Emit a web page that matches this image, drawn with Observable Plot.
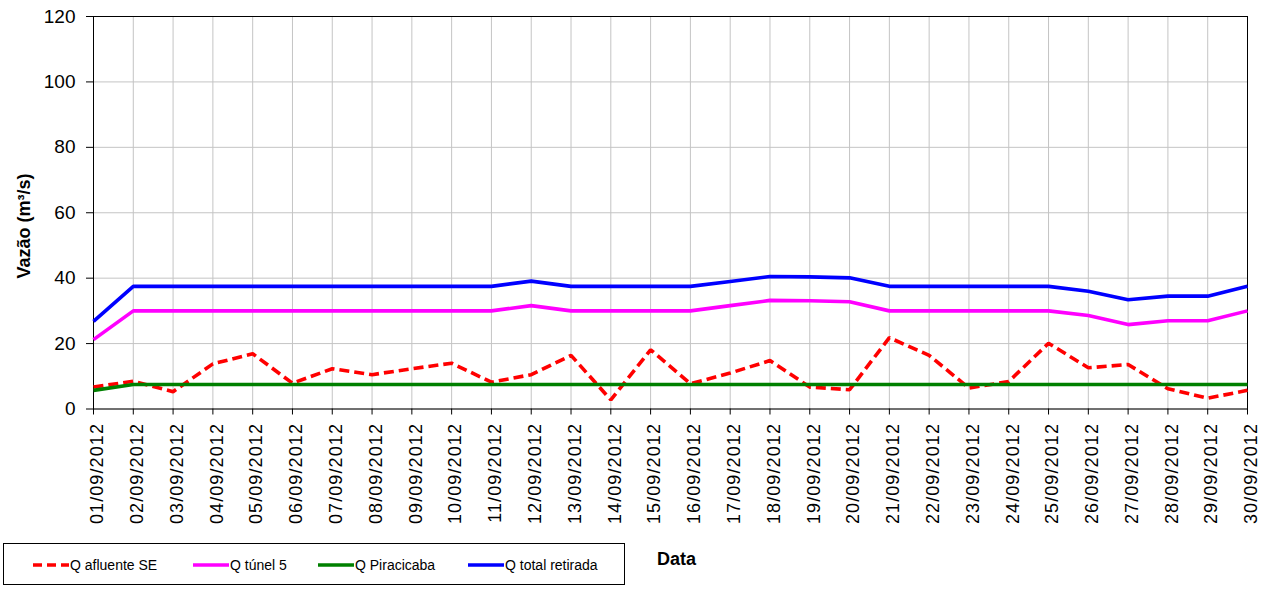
<!DOCTYPE html>
<html><head><meta charset="utf-8">
<script src="https://cdn.jsdelivr.net/npm/d3@7"></script>
<script src="https://cdn.jsdelivr.net/npm/@observablehq/plot@0.6"></script>
<style>
body{margin:0;background:#fff;font-family:"Liberation Sans",Arial,sans-serif;}
#wrap{position:relative;width:1266px;height:593px;overflow:hidden;}
#ytitle{position:absolute;left:24px;top:226px;transform:translate(-50%,-50%) rotate(-90deg);font-weight:bold;font-size:18px;white-space:nowrap;color:#000;}
#legend{position:absolute;left:3px;top:543px;width:622px;height:42px;border:1px solid #000;box-sizing:border-box;}
.item{position:absolute;top:0;height:42px;display:flex;align-items:center;font-size:14px;color:#000;white-space:nowrap;}
.item svg{display:block;margin-right:1px;}
#xtitle{position:absolute;left:657px;top:549px;font-weight:bold;font-size:18px;color:#000;}
</style></head><body><div id="wrap"><div id="chart"></div><div id="ytitle"></div><div id="legend"></div><div id="xtitle"></div></div>
<script>
const dates = ["01/09/2012","02/09/2012","03/09/2012","04/09/2012","05/09/2012","06/09/2012","07/09/2012","08/09/2012","09/09/2012","10/09/2012",
"11/09/2012","12/09/2012","13/09/2012","14/09/2012","15/09/2012","16/09/2012","17/09/2012","18/09/2012","19/09/2012","20/09/2012",
"21/09/2012","22/09/2012","23/09/2012","24/09/2012","25/09/2012","26/09/2012","27/09/2012","28/09/2012","29/09/2012","30/09/2012"];
const qAfluente = [6.7,8.5,5.3,13.8,16.9,7.9,12.3,10.5,12.3,14.0,8.2,10.5,16.4,2.8,18.1,7.7,11.0,14.8,6.7,5.9,21.8,16.4,6.4,8.4,20.1,12.6,13.6,6.2,3.3,5.7];
const qTunel = [21.2,30,30,30,30,30,30,30,30,30,30,31.6,30,30,30,30,31.6,33.2,33.1,32.8,30,30,30,30,30,28.6,25.8,27,27,30];
const qPiracicaba = [5.7,7.5,7.5,7.5,7.5,7.5,7.5,7.5,7.5,7.5,7.5,7.5,7.5,7.5,7.5,7.5,7.5,7.5,7.5,7.5,7.5,7.5,7.5,7.5,7.5,7.5,7.5,7.5,7.5,7.5];
const qTotal = [26.8,37.5,37.5,37.5,37.5,37.5,37.5,37.5,37.5,37.5,37.5,39.1,37.5,37.5,37.5,37.5,39.0,40.5,40.4,40.1,37.5,37.5,37.5,37.5,37.5,36.0,33.4,34.5,34.5,37.5];
const seriesNames = ["Q afluente SE","Q túnel 5","Q Piracicaba","Q total retirada"];
const seriesColors = ["#ff0000","#ff00ff","#008000","#0000ff"];
const yTicks = [0,20,40,60,80,100,120];
const yTitle = "Vazão (m³/s)";
const xTitle = "Data";

const seriesValues = [qAfluente, qTunel, qPiracicaba, qTotal];
const rows = [];
seriesNames.forEach((s, k) => dates.forEach((d, i) => rows.push({date: d, value: seriesValues[k][i], series: s})));

const lineMark = (k, extra) => Plot.line(rows.filter(r => r.series === seriesNames[k]),
  Object.assign({x: "date", y: "value", stroke: seriesColors[k], strokeWidth: 3.6, strokeLinejoin: "miter", strokeLinecap: "butt"}, extra || {}));

const chart = Plot.plot({
  width: 1266, height: 530,
  marginLeft: 93, marginRight: 19, marginTop: 16, marginBottom: 121.5,
  style: {fontFamily: "'Liberation Sans', Arial, sans-serif", color: "#000", background: "#fff", overflow: "visible"},
  x: {type: "point", domain: dates, padding: 0, round: false},
  y: {domain: [0, 120]},
  marks: [
    Plot.gridY(yTicks, {stroke: "#c4c4c4", strokeOpacity: 1, strokeWidth: 1}),
    Plot.gridX(dates, {stroke: "#c4c4c4", strokeOpacity: 1, strokeWidth: 1}),
    Plot.frame({stroke: "#000", strokeWidth: 1}),
    Plot.axisY(yTicks, {tickSize: 7, tickPadding: 11, fontSize: 19, label: null, stroke: "#000"}),
    Plot.axisX(dates, {tickRotate: -90, tickSize: 6, tickPadding: 8, fontSize: 18, label: null, stroke: "#000"}),
    lineMark(0, {strokeDasharray: "10,5"}),
    lineMark(1),
    lineMark(2),
    lineMark(3)
  ]
});
const xLab = chart.querySelector('[aria-label="x-axis tick label"]');
if (xLab) {
  xLab.querySelectorAll("text").forEach(t => t.setAttribute("letter-spacing", "1.1"));
  xLab.setAttribute("transform", ((xLab.getAttribute("transform") || "") + " translate(4,0)").trim());
}
document.getElementById("chart").appendChild(chart);
document.getElementById("ytitle").textContent = yTitle;
document.getElementById("xtitle").textContent = xTitle;

const legendX = [29, 189, 314, 464];
const legend = document.getElementById("legend");
seriesNames.forEach((name, k) => {
  const it = document.createElement("div");
  it.className = "item";
  it.style.left = legendX[k] + "px";
  const dash = k === 0 ? 'stroke-dasharray="9,5"' : '';
  it.innerHTML = `<svg width="36" height="6"><line x1="0" y1="3" x2="36" y2="3" stroke="${seriesColors[k]}" stroke-width="3.6" ${dash}/></svg><span></span>`;
  it.querySelector("span").textContent = name;
  legend.appendChild(it);
});
</script>
</body></html>
